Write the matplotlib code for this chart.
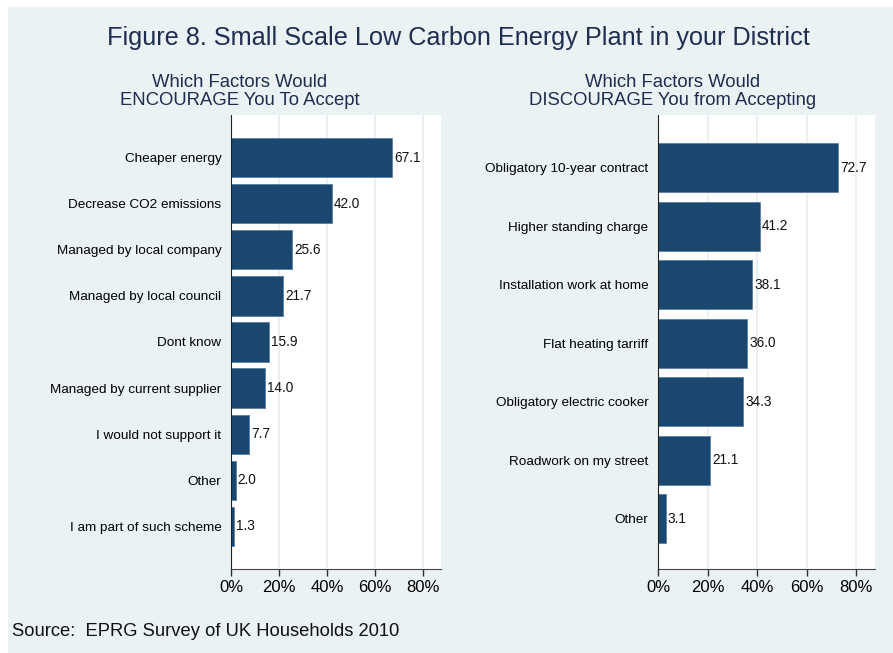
import matplotlib.pyplot as plt
from matplotlib.patches import Rectangle

enc_labels = ["Cheaper energy", "Decrease CO2 emissions", "Managed by local company",
              "Managed by local council", "Dont know", "Managed by current supplier",
              "I would not support it", "Other", "I am part of such scheme"]
enc_values = [67.1, 42.0, 25.6, 21.7, 15.9, 14.0, 7.7, 2.0, 1.3]

dis_labels = ["Obligatory 10-year contract", "Higher standing charge",
              "Installation work at home", "Flat heating tarriff",
              "Obligatory electric cooker", "Roadwork on my street", "Other"]
dis_values = [72.7, 41.2, 38.1, 36.0, 34.3, 21.1, 3.1]

xticks = [0, 20, 40, 60, 80]

bg = "#EAF2F3"
bar_color = "#1A476F"
navy = "#1E2D50"

plt.rcParams['font.family'] = ['Liberation Sans', 'DejaVu Sans']

fig = plt.figure(figsize=(8.93, 6.53), dpi=100)
fig.patch.set_facecolor("white")
fig.patches.append(Rectangle((8 / 893, 0), 1, 1 - 7 / 653, transform=fig.transFigure,
                             facecolor=bg, edgecolor="none", zorder=-10))

fig.text(0.513, 1 - 38 / 653, "Figure 8. Small Scale Low Carbon Energy Plant in your District",
         ha="center", va="center", fontsize=18.2, color=navy)


def draw(rect, labels, values, margin, height, title, title_x):
    ax = fig.add_axes(rect)
    ax.set_facecolor("white")
    y = list(range(len(labels)))
    ax.barh(y, values, height=height, color=bar_color, edgecolor="#5A7FA0", linewidth=0.6, zorder=3)
    for yi, v in zip(y, values):
        ax.text(v + 0.8, yi, "%.1f" % v, va="center", ha="left", fontsize=9.8, color="#111111", zorder=4)
    ax.set_yticks(y)
    ax.set_yticklabels(labels, fontsize=9.7)
    ax.tick_params(axis="y", length=0, pad=7)
    ax.set_ylim(len(labels) - 1 + margin[1], -margin[0])
    ax.set_xlim(0, 87.5)
    ax.set_xticks(xticks)
    ax.set_xticklabels(["%d%%" % t for t in xticks], fontsize=12)
    ax.tick_params(axis="x", length=5, width=1, color="#333333", pad=3)
    ax.grid(axis="x", color="#E6EEF0", linewidth=1.2, zorder=0)
    for s in ["top", "right"]:
        ax.spines[s].set_visible(False)
    ax.spines["left"].set_color("#222222")
    ax.spines["bottom"].set_color("#444444")
    ax.spines["left"].set_zorder(5)
    fig.text(title_x, 1 - 91.5 / 653, title, ha="center", va="center", fontsize=13.3,
             color=navy, linespacing=1.05)
    return ax


draw([231 / 893, 1 - 569 / 653, 210 / 893, 454 / 653], enc_labels, enc_values,
     (0.93, 0.93), 0.85, "Which Factors Would\nENCOURAGE You To Accept", 240 / 893)
draw([658 / 893, 1 - 569 / 653, 217 / 893, 454 / 653], dis_labels, dis_values,
     (0.9, 0.86), 0.84, "Which Factors Would\nDISCOURAGE You from Accepting", 673 / 893)

fig.text(12 / 893, 1 - 632 / 653, "Source:  EPRG Survey of UK Households 2010",
         ha="left", va="center", fontsize=13.2, color="#111111")

fig.savefig("out.png", dpi=100, facecolor=fig.get_facecolor())
